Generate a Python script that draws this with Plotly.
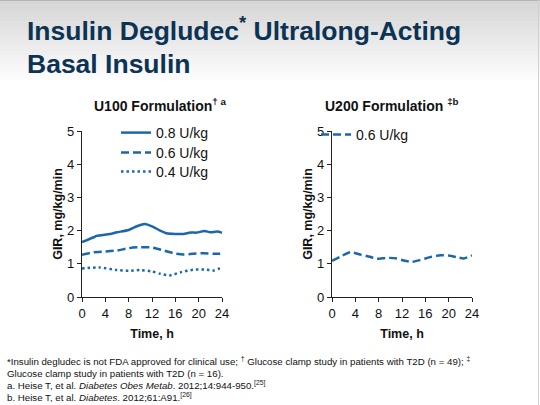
import plotly.graph_objects as go

W, H = 540, 405

# ---- data ----
hours_u100_08 = [0, 2, 2.5, 4.8, 6, 8, 9.4, 10.8, 12, 13.4, 14.5, 16, 17.4, 18.6, 19.7, 21, 22, 23.2, 24]
gir_u100_08 = [1.65, 1.80, 1.84, 1.90, 1.95, 2.02, 2.13, 2.20, 2.13, 2.00, 1.92, 1.90, 1.90, 1.94, 1.94, 1.99, 1.95, 1.97, 1.93]

hours_u100_06 = [0, 2, 4, 6, 8, 10, 12, 14, 16, 17.4, 19, 20.8, 22.6, 24]
gir_u100_06 = [1.27, 1.35, 1.37, 1.40, 1.47, 1.50, 1.49, 1.40, 1.31, 1.28, 1.30, 1.32, 1.30, 1.30]

hours_u100_04 = [0, 3, 6, 8, 10, 12, 13.4, 15, 17, 19, 21, 22.6, 23.4, 24]
gir_u100_04 = [0.86, 0.89, 0.81, 0.79, 0.81, 0.77, 0.70, 0.65, 0.75, 0.82, 0.83, 0.80, 0.85, 0.84]

hours_u200_06 = [0, 1.4, 3.1, 4.8, 6.5, 7.7, 9.4, 11.1, 12.3, 13.7, 15.1, 16.8, 18.6, 20, 21.4, 22.6, 24]
gir_u200_06 = [1.09, 1.21, 1.35, 1.28, 1.21, 1.15, 1.18, 1.16, 1.10, 1.06, 1.11, 1.20, 1.26, 1.25, 1.20, 1.16, 1.25]

x_ticks = [0, 4, 8, 12, 16, 20, 24]
y_ticks = [0, 1, 2, 3, 4, 5]

BLUE = "#1b67ae"
NAVY = "#0c3354"
FONT = "Arial"

def px_x(p):
    return p / W

def px_y(p):
    return 1 - p / H

fig = go.Figure()

fig.add_trace(go.Scatter(x=hours_u100_08, y=gir_u100_08, mode="lines", name="0.8 U/kg",
                         line=dict(color=BLUE, width=2.5, shape="spline", smoothing=0.6),
                         xaxis="x", yaxis="y", legend="legend"))
fig.add_trace(go.Scatter(x=hours_u100_06, y=gir_u100_06, mode="lines", name="0.6 U/kg",
                         line=dict(color=BLUE, width=2.5, dash="8px,4px", shape="spline", smoothing=0.6),
                         xaxis="x", yaxis="y", legend="legend3"))
fig.add_trace(go.Scatter(x=hours_u100_04, y=gir_u100_04, mode="lines", name="0.4 U/kg",
                         line=dict(color=BLUE, width=2.5, dash="2.5px,3px", shape="spline", smoothing=0.6),
                         xaxis="x", yaxis="y", legend="legend4"))
fig.add_trace(go.Scatter(x=hours_u200_06, y=gir_u200_06, mode="lines", name="0.6 U/kg",
                         line=dict(color=BLUE, width=2.5, dash="8px,4px", shape="spline", smoothing=0.6),
                         xaxis="x2", yaxis="y2", legend="legend2"))

axis_common = dict(
    showline=True, linecolor="#222222", linewidth=1.3,
    ticks="outside", ticklen=4, tickwidth=1.3, tickcolor="#222222",
    showgrid=False, zeroline=False, automargin=False,
    tickfont=dict(family=FONT, size=13, color="#111111"),
    fixedrange=True,
)

ydom = [px_y(297), px_y(131)]

def leg(xp, yp):
    return dict(x=px_x(xp), y=px_y(yp), xanchor="left", yanchor="top",
                bgcolor="rgba(0,0,0,0)", font=dict(size=14, family=FONT, color="#111111"))

fig.update_layout(
    width=W, height=H,
    margin=dict(l=0, r=0, t=0, b=0, pad=0, autoexpand=False),
    paper_bgcolor="white", plot_bgcolor="rgba(0,0,0,0)",
    font=dict(family=FONT, color="#111111"),
    xaxis=dict(domain=[px_x(82), px_x(222)], range=[0, 24], tickvals=x_ticks, anchor="y",
               title=dict(text="<b>Time, h</b>", font=dict(size=12.5, family=FONT), standoff=9), **axis_common),
    yaxis=dict(domain=ydom, range=[0, 5], tickvals=y_ticks, anchor="x",
               title=dict(text="<b>GIR, mg/kg/min</b>", font=dict(size=12.5, family=FONT), standoff=1), **axis_common),
    xaxis2=dict(domain=[px_x(332), px_x(472)], range=[0, 24], tickvals=x_ticks, anchor="y2",
                title=dict(text="<b>Time, h</b>", font=dict(size=12.5, family=FONT), standoff=9), **axis_common),
    yaxis2=dict(domain=ydom, range=[0, 5], tickvals=y_ticks, anchor="x2",
                title=dict(text="<b>GIR, mg/kg/min</b>", font=dict(size=12.5, family=FONT), standoff=1), **axis_common),
    legend=leg(116, 117),
    legend3=leg(116, 137),
    legend4=leg(116, 156),
    legend2=leg(316, 119),
    showlegend=True,
)

# background gradient band at the top (decoration)
shapes = []
steps = 20
top_c, bot_c = 214, 255
for i in range(steps):
    y0 = i * 85 / steps
    y1 = (i + 1) * 85 / steps + 0.5
    c = int(top_c + (bot_c - top_c) * (i / (steps - 1)))
    shapes.append(dict(type="rect", xref="paper", yref="paper", layer="below",
                       x0=0, x1=1, y0=px_y(y1), y1=px_y(y0),
                       fillcolor=f"rgb({c},{c},{c})", line=dict(width=0)))
# thin frame lines at top and right edge
shapes.append(dict(type="line", xref="paper", yref="paper", layer="above",
                   x0=0, x1=1, y0=px_y(0.5), y1=px_y(0.5), line=dict(color="#b4b4b4", width=1)))
shapes.append(dict(type="line", xref="paper", yref="paper", layer="above",
                   x0=px_x(538.5), x1=px_x(538.5), y0=0, y1=1, line=dict(color="#d0d0d0", width=1)))
fig.update_layout(shapes=shapes)

annotations = [
    dict(text="<b>Insulin Degludec<sup>*</sup> Ultralong-Acting</b>", x=px_x(25), y=px_y(29),
         xanchor="left", yanchor="middle", font=dict(size=26.5, color=NAVY, family=FONT)),
    dict(text="<b>Basal Insulin</b>", x=px_x(25), y=px_y(64),
         xanchor="left", yanchor="middle", font=dict(size=26.5, color=NAVY, family=FONT)),
    dict(text="<b>U100 Formulation<sup>† a</sup></b>", x=px_x(160), y=px_y(105),
         xanchor="center", yanchor="middle", font=dict(size=14, color="#111111", family=FONT)),
    dict(text="<b>U200 Formulation <sup>‡b</sup></b>", x=px_x(392), y=px_y(105),
         xanchor="center", yanchor="middle", font=dict(size=14, color="#111111", family=FONT)),
    dict(text="*Insulin degludec is not FDA approved for clinical use; <sup>†</sup> Glucose clamp study in patients with T2D (n = 49); <sup>‡</sup>",
         x=px_x(5), y=px_y(361), xanchor="left", yanchor="middle", font=dict(size=9.7, family=FONT, color="#111111")),
    dict(text="Glucose clamp study in patients with T2D (n = 16).",
         x=px_x(5), y=px_y(373), xanchor="left", yanchor="middle", font=dict(size=9.7, family=FONT, color="#111111")),
    dict(text="a. Heise T, et al. <i>Diabetes Obes Metab</i>. 2012;14:944-950.<sup>[25]</sup>",
         x=px_x(5), y=px_y(385), xanchor="left", yanchor="middle", font=dict(size=9.7, family=FONT, color="#111111")),
    dict(text="b. Heise T, et al. <i>Diabetes</i>. 2012;61:A91.<sup>[26]</sup>",
         x=px_x(5), y=px_y(397), xanchor="left", yanchor="middle", font=dict(size=9.7, family=FONT, color="#111111")),
]
for a in annotations:
    a.update(xref="paper", yref="paper", showarrow=False)
fig.update_layout(annotations=annotations)

POST = (
    "var s=document.createElement('style');"
    "s.textContent='html,body{margin:0!important;padding:0!important;overflow:hidden!important;"
    "background:#ffffff!important;}::-webkit-scrollbar{display:none;width:0;height:0;}';"
    "document.head.appendChild(s);"
)

fig.write_html("out.html", config={"displayModeBar": False}, post_script=POST)
